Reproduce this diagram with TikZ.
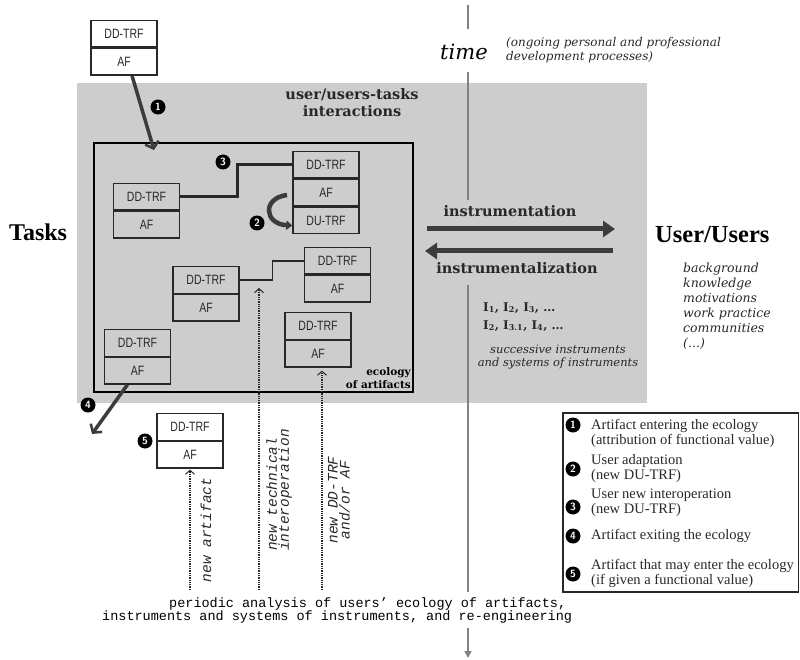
\documentclass[tikz,border=0pt]{standalone}
\usepackage{fontspec}
\setmainfont{Liberation Serif}
\newfontfamily\boxfont[FakeStretch=0.78]{Liberation Sans}
\newfontfamily\dvs{DejaVu Serif}
\newfontfamily\monof{Liberation Mono}
\usetikzlibrary{arrows.meta}
\definecolor{bggray}{RGB}{205,205,205}
\definecolor{ink}{RGB}{40,40,40}
\definecolor{arrgray}{RGB}{60,60,60}
\definecolor{timegray}{RGB}{130,130,130}
\newcommand{\artbox}[3]{%
  \node[artcell, anchor=north] (#1t) at (#2,-#3) {DD-TRF};
  \node[artcell, anchor=north] (#1a) at (#1t.south) {AF};}
\tikzset{
  artcell/.style={draw=ink, line width=1.3pt, minimum width=66pt, minimum height=26.5pt, inner sep=0pt,
    font=\boxfont\fontsize{13.5}{14}\selectfont, text=ink},
  bigarrow/.style={draw=arrgray, line width=3.5pt, -{Straight Barb[length=6pt,width=14pt,line width=2.5pt]}},
  instarrow/.style={draw=arrgray, line width=5pt, -{Triangle[length=12pt,width=16pt]}},
  thickconn/.style={draw=ink, line width=3pt},
  thinconn/.style={draw=ink, line width=1.5pt},
  curvarrow/.style={draw=arrgray, line width=4.5pt, -{Triangle[length=6pt,width=9pt]}},
  dasharrow/.style={draw=ink, line width=1.3pt, densely dotted, -{Straight Barb[length=4pt,width=9pt,line width=1pt]}},
  bul/.style={circle, fill=black, text=white, inner sep=0pt, minimum size=15pt, font=\sffamily\bfseries\fontsize{10.5}{10.5}\selectfont},
  timeline/.style={draw=timegray, line width=1.8pt},
  legtext/.style={anchor=base west, inner sep=0pt, align=left, text=ink, font=\fontsize{14.5}{15}\selectfont},
  ditalic/.style={anchor=base west, inner sep=0pt, align=left, text=ink, font=\dvs\itshape\fontsize{12.5}{15}\selectfont},
  dbold/.style={inner sep=0pt, text=ink, font=\dvs\bfseries\fontsize{14.5}{17}\selectfont},
  rotlabel/.style={rotate=90, inner sep=0pt, text=ink, font=\monof\itshape\fontsize{14.5}{12}\selectfont},
  monotext/.style={anchor=base west, inner sep=0pt, text=black, font=\monof\fontsize{13.5}{13.5}\selectfont}
}
\begin{document}
\begin{tikzpicture}[x=1pt,y=1pt]
\useasboundingbox (0,0) rectangle (800,-660);
% grey interaction region
\fill[bggray] (77,-83) rectangle (647,-403);
\draw[line width=2pt, black] (94,-143) rectangle (413,-392);

% time line
\coordinate (t0) at (468,-5);  \coordinate (t1) at (468,-29);
\coordinate (t2) at (468,-72); \coordinate (t3) at (468,-200);
\coordinate (t4) at (468,-285); \coordinate (t5) at (468,-592);
\coordinate (t6) at (468,-628); \coordinate (t7) at (468,-658);
\draw[timeline] (t0) -- (t1);
\draw[timeline] (t2) -- (t3);
\draw[timeline] (t4) -- (t5);
\draw[timeline, -{Triangle[length=7pt,width=7pt]}] (t6) -- (t7);

\node[anchor=base west, inner sep=0pt, text=black, font=\dvs\itshape\fontsize{21}{21}\selectfont] (time) at (440,-60) {time};
\node[ditalic, font=\dvs\itshape\fontsize{12}{14}\selectfont] (ongoing) at (506,-61) {(ongoing personal  and professional\\development processes)};

% main labels
\node[anchor=base west, inner sep=0pt, font=\bfseries\fontsize{24}{24}\selectfont] (tasks) at (9,-241) {Tasks};
\node[anchor=base west, inner sep=0pt, font=\bfseries\fontsize{24.5}{24.5}\selectfont] (users) at (655,-243) {User/Users};
\node[ditalic] (bg) at (683,-347) {background\\knowledge\\motivations\\work practice\\communities\\(...)};

\node[dbold, anchor=base, align=center] (uti) at (352,-117) {user/users-tasks\\interactions};
\node[dbold, anchor=base] (instr) at (510,-217) {instrumentation};
\node[dbold, anchor=base] (instrz) at (517,-273) {instrumentalization};
\node[anchor=base west, inner sep=0pt, text=ink, font=\dvs\bfseries\fontsize{12}{18}\selectfont, align=left] (ilist) at (483,-329)
  {I\textsubscript{1}, I\textsubscript{2}, I\textsubscript{3}, \ldots\\I\textsubscript{2}, I\textsubscript{3.1}, I\textsubscript{4}, \ldots};
\node[ditalic, anchor=base, align=center, font=\dvs\itshape\fontsize{11.5}{13}\selectfont] (succ) at (558,-366) {successive instruments\\and systems of instruments};
\node[anchor=base east, inner sep=0pt, align=right, text=black, font=\dvs\bfseries\fontsize{10.5}{13}\selectfont] (eco) at (411,-388) {ecology\\of artifacts};

% instrumentation arrows
\coordinate (ia1) at (427,-229); \coordinate (ia2) at (615,-229);
\coordinate (ib1) at (613,-251); \coordinate (ib2) at (425,-251);
\draw[instarrow] (ia1) -- (ia2);
\draw[instarrow] (ib1) -- (ib2);

% artifact boxes
\artbox{P}{124}{20}
\artbox{A}{326}{151}
\node[artcell, anchor=north] (Au) at (Aa.south) {DU-TRF};
\artbox{B}{146.5}{183}
\artbox{C}{206}{266}
\artbox{D}{337.5}{247}
\artbox{E}{318}{312}
\artbox{F}{137.5}{329}
\artbox{G}{190}{413}

% connectors
\coordinate (e1) at (154,-150);
\draw[bigarrow] ([xshift=8pt]Pa.south) -- (e1);
\draw[thickconn] (Bt.east) -- ([xshift=57pt]Bt.east) |- (At.west);
\draw[thinconn] (Ct.east) -- ([xshift=33pt]Ct.east) |- (Dt.west);
\coordinate (s2) at (287,-195);
\draw[curvarrow] (s2) .. controls (262,-198) and (264,-224) .. ([yshift=-5pt]Au.west);
\coordinate (e4) at (92,-434);
\draw[bigarrow] ([xshift=-10pt]Fa.south) -- (e4);

% dotted arrows
\coordinate (d1) at (190,-590);
\coordinate (d2) at (259,-590); \coordinate (d2e) at (259,-288);
\coordinate (d3) at (322,-590);
\draw[dasharrow, shorten >=1pt] (d1) -- (Ga.south);
\draw[dasharrow] (d2) -- (d2e);
\draw[dasharrow, shorten >=3pt] (d3) -- ([xshift=4pt]Ea.south);

\node[rotlabel] (lab1) at (206,-530) {new artifact};
\node[rotlabel, align=left] (lab2) at (279,-490) {new technical\\interoperation};
\node[rotlabel, align=center] (lab3) at (339,-500) {new DD-TRF\\and/or AF};

% numbered bullets
\node[bul] (n1) at (158,-107) {1};
\node[bul] (n2) at (257,-223) {2};
\node[bul] (n3) at (223,-162) {3};
\node[bul] (n4) at (88,-405) {4};
\node[bul] (n5) at (145,-441) {5};

% bottom text
\node[monotext] (per1) at (169,-607) {periodic analysis of users’ ecology of artifacts,};
\node[monotext] (per2) at (102,-620) {instruments and systems of instruments, and re-engineering};

% legend
\draw[draw=ink, line width=1.3pt] (563,-413) rectangle (798.5,-592);
\node[bul] (l1) at (573,-425) {1};
\node[bul] (l2) at (573,-469) {2};
\node[bul] (l3) at (573,-507) {3};
\node[bul] (l4) at (573,-536) {4};
\node[bul] (l5) at (573,-574) {5};
\node[legtext] (lt1) at (591,-444) {Artifact entering the ecology\\(attribution of functional value)};
\node[legtext] (lt2) at (591,-479) {User adaptation\\(new DU-TRF)};
\node[legtext] (lt3) at (591,-513) {User new interoperation\\(new DU-TRF)};
\node[legtext] (lt4) at (591,-539) {Artifact exiting the ecology};
\node[legtext] (lt5) at (591,-584) {Artifact that may enter the ecology\\(if given a functional value)};
\end{tikzpicture}
\end{document}
